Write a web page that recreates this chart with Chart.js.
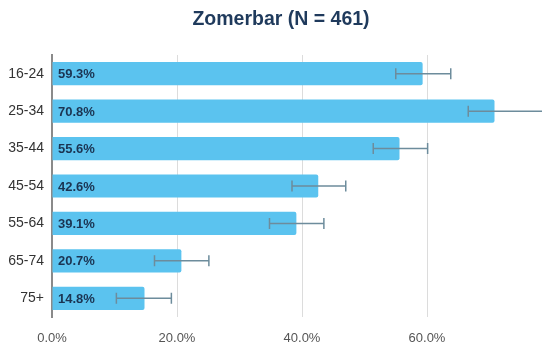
<!DOCTYPE html>
<html>
<head>
<meta charset="utf-8">
<script src="https://cdn.jsdelivr.net/npm/chart.js@4"></script>
<style>
  html, body { margin: 0; padding: 0; background: #fff; }
  #wrap { width: 542px; height: 346px; }
</style>
</head>
<body>
<div id="wrap"><canvas id="zomerbarChart"></canvas></div>
<script>
(function(){
  'use strict';

  var chartTitle = 'Zomerbar (N = 461)';
  var ageGroups = ['16-24', '25-34', '35-44', '45-54', '55-64', '65-74', '75+'];
  var shares = [59.3, 70.8, 55.6, 42.6, 39.1, 20.7, 14.8];
  var lowerBounds = [55.0, 66.6, 51.4, 38.4, 34.8, 16.4, 10.3];
  var upperBounds = [63.8, 79.5, 60.1, 47.0, 43.5, 25.1, 19.1];
  var xTicks = [0, 20, 40, 60];

  // title sits a bit right of the canvas centre, so draw it by hand
  var titleText = {
    id: 'titleText',
    afterDraw: function(chart){
      var ctx = chart.ctx;
      ctx.save();
      ctx.fillStyle = '#1f3a5c';
      ctx.font = 'bold 19.5px "Liberation Sans", Arial, sans-serif';
      ctx.textAlign = 'center';
      ctx.textBaseline = 'middle';
      ctx.fillText(chartTitle, 281, 20);
      ctx.restore();
    }
  };

  // draws the error whiskers and the value labels inside the bars
  var barExtras = {
    id: 'barExtras',
    afterDatasetsDraw: function(chart){
      var ctx = chart.ctx;
      var xs = chart.scales.x;
      var meta = chart.getDatasetMeta(0);
      ctx.save();
      ctx.strokeStyle = '#6d8c9c';
      ctx.lineWidth = 1.5;
      meta.data.forEach(function(bar, i){
        var y = bar.y;
        var x1 = xs.getPixelForValue(lowerBounds[i]);
        var x2 = xs.getPixelForValue(upperBounds[i]);
        ctx.beginPath();
        ctx.moveTo(x1, y); ctx.lineTo(x2, y);
        ctx.moveTo(x1, y - 5.5); ctx.lineTo(x1, y + 5.5);
        ctx.moveTo(x2, y - 5.5); ctx.lineTo(x2, y + 5.5);
        ctx.stroke();
      });
      ctx.fillStyle = '#1b3452';
      ctx.font = 'bold 13px "Liberation Sans", Arial, sans-serif';
      ctx.textBaseline = 'middle';
      ctx.textAlign = 'left';
      meta.data.forEach(function(bar, i){
        ctx.fillText(shares[i].toFixed(1) + '%', xs.getPixelForValue(0) + 6, bar.y + 1);
      });
      ctx.restore();
    }
  };

  function initChart(){
    if (!window.Chart) return;
    var ctx = document.getElementById('zomerbarChart');
    new Chart(ctx, {
      type: 'bar',
      data: {
        labels: ageGroups,
        datasets: [{
          data: shares,
          backgroundColor: '#5bc3ef',
          borderRadius: 2,
          borderSkipped: 'start',
          barPercentage: 0.62,
          categoryPercentage: 1.0
        }]
      },
      options: {
        indexAxis: 'y',
        responsive: true,
        maintainAspectRatio: false,
        animation: false,
        layout: { padding: { left: 0, right: 0, top: 55, bottom: 0 } },
        plugins: {
          legend: { display: false },
          tooltip: { enabled: false },
          title: { display: false }
        },
        scales: {
          x: {
            min: 0,
            max: 78.4,
            afterBuildTicks: function(scale){
              scale.ticks = xTicks.map(function(v){ return { value: v }; });
            },
            afterFit: function(scale){ scale.height = 29; },
            grid: { color: '#dcdcdc', lineWidth: 1, drawTicks: false },
            border: { display: false },
            ticks: {
              padding: 14,
              color: '#555',
              font: { family: '"Liberation Sans", Arial, sans-serif', size: 13 },
              callback: function(v){ return Number(v).toFixed(1) + '%'; }
            }
          },
          y: {
            afterFit: function(scale){ scale.width = 52; },
            grid: { display: false, drawTicks: false },
            border: { display: true, color: '#8a8a8a', width: 2 },
            ticks: {
              padding: 8,
              color: '#333',
              font: { family: '"Liberation Sans", Arial, sans-serif', size: 14 }
            }
          }
        }
      },
      plugins: [barExtras, titleText]
    });
  }

  document.addEventListener('DOMContentLoaded', initChart);
})();
</script>
</body>
</html>
